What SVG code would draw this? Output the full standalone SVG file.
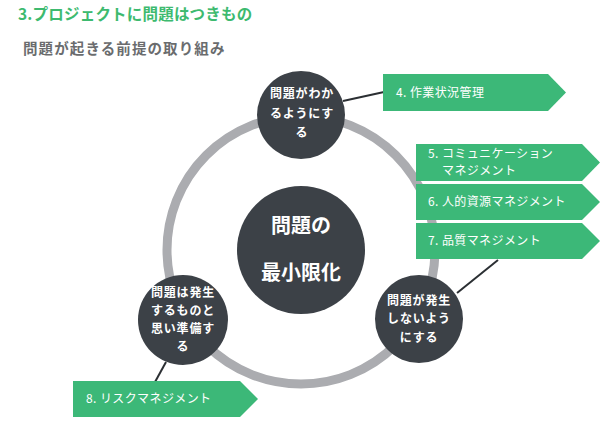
<svg xmlns="http://www.w3.org/2000/svg" width="602" height="421" viewBox="0 0 602 421">
<style>
.t{font-family:"Noto Sans CJK JP","Noto Sans",sans-serif}
.node{fill:#3c4147}
.nt{font-family:"Noto Sans CJK JP",sans-serif;font-size:12px;font-weight:bold;fill:#ffffff;text-anchor:middle;letter-spacing:0.8px}
.box{fill:#3cb878}
.bt{font-family:"Noto Sans CJK JP",sans-serif;font-size:12px;fill:#ffffff;letter-spacing:0.4px}
.conn{stroke:#2b2f33;stroke-width:2;fill:none}
</style>
<rect width="602" height="421" fill="#ffffff"/>
<text class="t" x="18" y="20" font-size="15.5" font-weight="bold" fill="#3dba6f" letter-spacing="0.2">3.プロジェクトに問題はつきもの</text>
<text class="t" x="23" y="54" font-size="14.5" font-weight="bold" fill="#6a6c6e" letter-spacing="1.1">問題が起きる前提の取り組み</text>
<circle id="ring" cx="301" cy="250" r="134" fill="none" stroke="#abacb0" stroke-width="9"/>
<g id="connectors">
<line class="conn" x1="343" y1="101" x2="384" y2="92"/>
<line class="conn" x1="457" y1="293" x2="498" y2="260"/>
<line class="conn" x1="166" y1="362" x2="155" y2="382"/>
</g>
<g id="center">
<circle class="node" cx="301" cy="250" r="64"/>
<text class="t" x="301" y="233" font-size="20" font-weight="bold" fill="#ffffff" text-anchor="middle">問題の</text>
<text class="t" x="301" y="280" font-size="20" font-weight="bold" fill="#ffffff" text-anchor="middle">最小限化</text>
</g>
<g id="node-top">
<circle class="node" cx="301" cy="115" r="44"/>
<text class="nt" x="302" y="98">問題がわか</text>
<text class="nt" x="302" y="118">るようにす</text>
<text class="nt" x="302" y="137">る</text>
</g>
<g id="node-left">
<circle class="node" cx="183" cy="320" r="45"/>
<text class="nt" x="183" y="297">問題は発生</text>
<text class="nt" x="183" y="315">するものと</text>
<text class="nt" x="183" y="333">思い準備す</text>
<text class="nt" x="183" y="351">る</text>
</g>
<g id="node-right">
<circle class="node" cx="419" cy="319" r="44"/>
<text class="nt" x="419" y="305">問題が発生</text>
<text class="nt" x="419" y="323">しないよう</text>
<text class="nt" x="419" y="342">にする</text>
</g>
<g id="box4">
<polygon class="box" points="383,74 548,74 566,92.5 548,111 383,111"/>
<text class="bt" x="396" y="97">4. 作業状況管理</text>
</g>
<g id="box5">
<polygon class="box" points="416,144 582,144 600,162.5 582,181 416,181"/>
<text class="bt" x="428" y="157.5" font-size="11.5" letter-spacing="2.2">5. コミュニケーション</text>
<text class="bt" x="442" y="174.5" font-size="11.5" letter-spacing="2.2">マネジメント</text>
</g>
<g id="box6">
<polygon class="box" points="416,184 582,184 600,202 582,220 416,220"/>
<text class="bt" x="428" y="206" letter-spacing="1">6. 人的資源マネジメント</text>
</g>
<g id="box7">
<polygon class="box" points="416,223 582,223 600,241 582,259 416,259"/>
<text class="bt" x="428" y="245" letter-spacing="1">7. 品質マネジメント</text>
</g>
<g id="box8">
<polygon class="box" points="73,381 240,381 258,399 240,417 73,417"/>
<text class="bt" x="86" y="403" letter-spacing="1.2">8. リスクマネジメント</text>
</g>
</svg>
